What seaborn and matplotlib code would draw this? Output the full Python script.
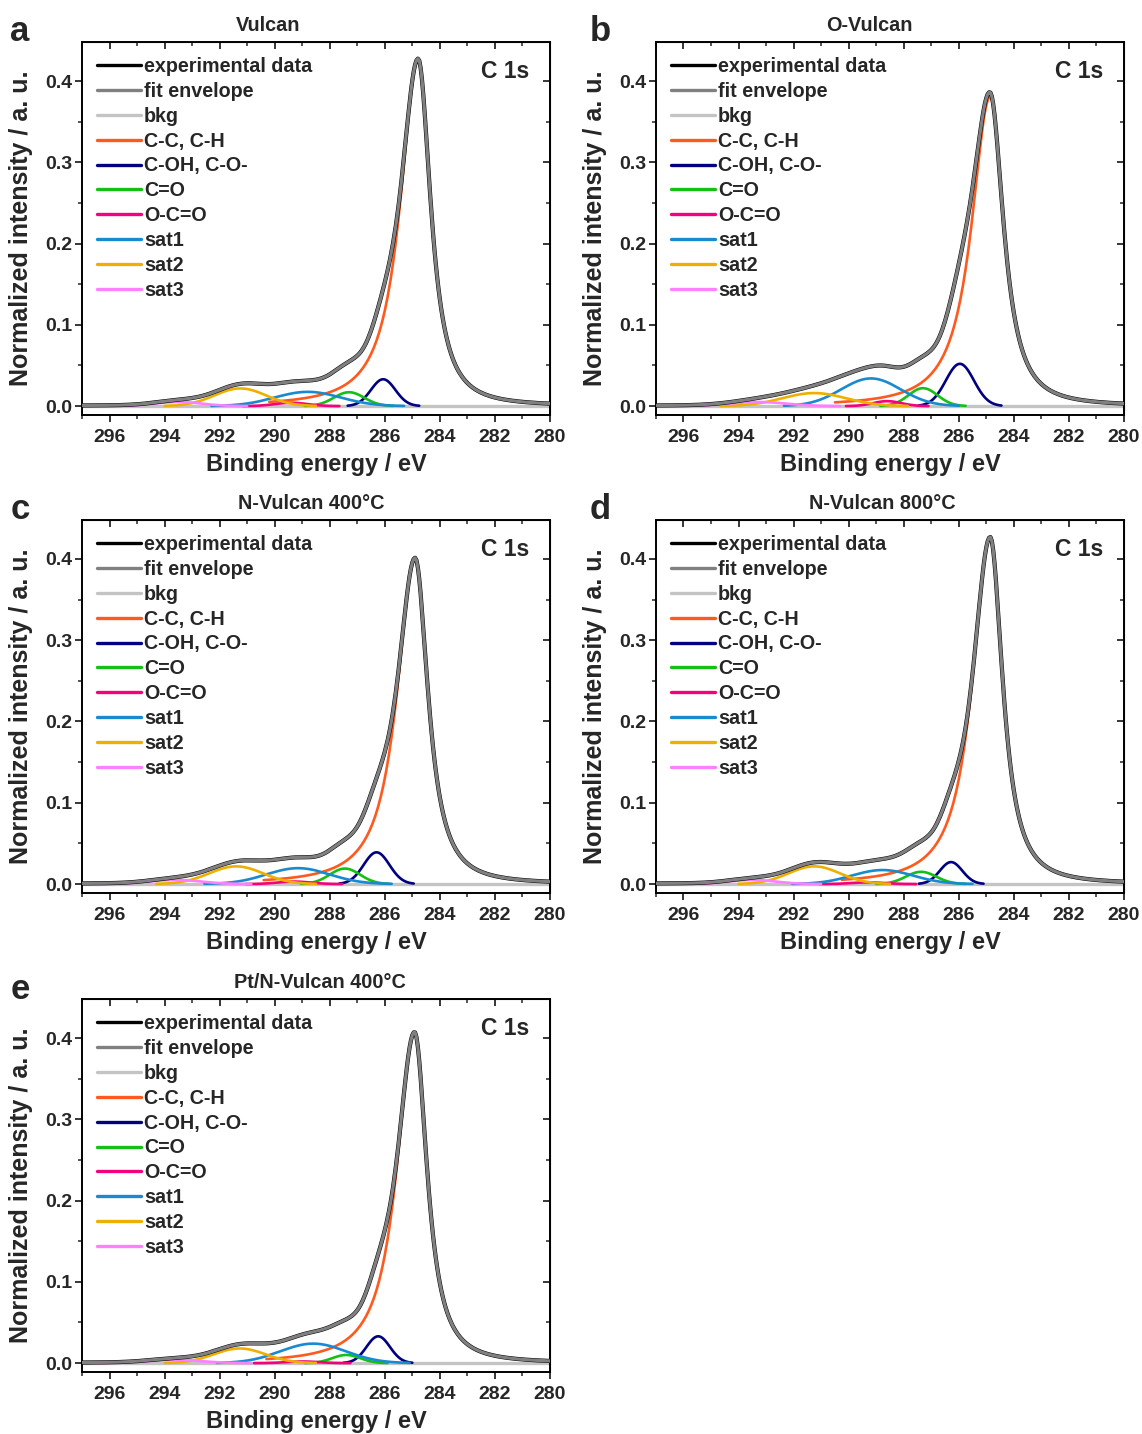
import matplotlib
matplotlib.use('Agg')
import matplotlib.pyplot as plt
import numpy as np
import pandas as pd
import seaborn as sns
from matplotlib.ticker import MultipleLocator

sns.set_style('ticks')
plt.rcParams['font.family'] = ['Liberation Sans', 'DejaVu Sans']
plt.rcParams['font.weight'] = 'bold'
plt.rcParams['axes.labelweight'] = 'bold'
plt.rcParams['axes.titleweight'] = 'bold'

# measurement grid of the C 1s region, eV
energy = np.round(np.arange(280.0, 297.0001, 0.05), 2)

components = ['C-C, C-H', 'C-OH, C-O-', 'C=O', 'O-C=O', 'sat1', 'sat2', 'sat3']
comp_colors = ['#ff5a1e', '#000080', '#14c014', '#f5007a', '#188ad0', '#eeb000', '#ff80ff']
# Lorentzian power of the lineshape (None = Gaussian)
comp_power = [1.2, None, None, None, None, None, None]

samples = ['Vulcan', 'O-Vulcan', 'N-Vulcan 400°C', 'N-Vulcan 800°C', 'Pt/N-Vulcan 400°C']
letters = ['a', 'b', 'c', 'd', 'e']
title_x = [0.397, 0.457, 0.49, 0.483, 0.508]

# fitted peaks: centre / eV, height, HWHM high-BE side, HWHM low-BE side
vulcan_center = [284.79, 286.06, 287.30, 289.40, 288.80, 291.25, 293.50]
vulcan_height = [0.427, 0.033, 0.017, 0.004, 0.0175, 0.0217, 0.005]
vulcan_hw_high = [0.77, 0.52, 0.65, 0.70, 1.40, 1.10, 1.00]
vulcan_hw_low = [0.54, 0.52, 0.65, 0.70, 1.40, 1.10, 1.00]

ovulcan_center = [284.86, 285.96, 287.30, 288.60, 289.19, 291.25, 293.30]
ovulcan_height = [0.381, 0.052, 0.022, 0.006, 0.034, 0.016, 0.005]
ovulcan_hw_high = [0.80, 0.60, 0.62, 0.60, 1.27, 1.35, 1.20]
ovulcan_hw_low = [0.58, 0.60, 0.62, 0.60, 1.27, 1.35, 1.20]

n400_center = [284.90, 286.30, 287.45, 289.30, 289.15, 291.40, 293.60]
n400_height = [0.401, 0.039, 0.019, 0.003, 0.0195, 0.0217, 0.005]
n400_hw_high = [0.78, 0.55, 0.65, 0.70, 1.35, 1.15, 1.10]
n400_hw_low = [0.56, 0.55, 0.65, 0.70, 1.35, 1.15, 1.10]

n800_center = [284.86, 286.28, 287.37, 289.30, 288.77, 291.25, 293.50]
n800_height = [0.427, 0.027, 0.015, 0.002, 0.0172, 0.0217, 0.005]
n800_hw_high = [0.77, 0.48, 0.65, 0.70, 1.30, 1.10, 1.00]
n800_hw_low = [0.54, 0.48, 0.65, 0.70, 1.30, 1.10, 1.00]

ptn400_center = [284.92, 286.24, 287.40, 289.00, 288.60, 291.27, 293.60]
ptn400_height = [0.407, 0.033, 0.010, 0.002, 0.024, 0.018, 0.004]
ptn400_hw_high = [0.77, 0.50, 0.60, 0.70, 1.40, 1.10, 1.10]
ptn400_hw_low = [0.54, 0.50, 0.60, 0.70, 1.40, 1.10, 1.10]

bkg_level = [0.0, 0.0, 0.0, 0.0, 0.0]

fits = [
    (vulcan_center, vulcan_height, vulcan_hw_high, vulcan_hw_low),
    (ovulcan_center, ovulcan_height, ovulcan_hw_high, ovulcan_hw_low),
    (n400_center, n400_height, n400_hw_high, n400_hw_low),
    (n800_center, n800_height, n800_hw_high, n800_hw_low),
    (ptn400_center, ptn400_height, ptn400_hw_high, ptn400_hw_low),
]


def lineshape(x, center, height, hw_high, hw_low, power):
    hw = np.where(x >= center, hw_high, hw_low)
    r2 = ((x - center) / hw) ** 2
    if power is None:
        return height * np.exp(-np.log(2) * r2)
    return height * (1 + (2 ** (1 / power) - 1) * r2) ** -power


# axes boxes in figure fractions (left, bottom, width, height)
boxes = [
    [0.0718, 0.7106, 0.4098, 0.2601],
    [0.5744, 0.7106, 0.4098, 0.2601],
    [0.0718, 0.3773, 0.4098, 0.2601],
    [0.5744, 0.3773, 0.4098, 0.2601],
    [0.0718, 0.0432, 0.4098, 0.2601],
]
letter_xy = [(20, 41), (600, 41), (20, 519), (600, 519), (20, 999)]

fig = plt.figure(figsize=(11.42, 14.34), dpi=100)

for i, sample in enumerate(samples):
    ax = fig.add_axes(boxes[i])
    center, height, hw_high, hw_low = fits[i]
    bkg = np.full_like(energy, bkg_level[i])

    curves = {}
    for j, comp in enumerate(components):
        curves[comp] = lineshape(energy, center[j], height[j], hw_high[j], hw_low[j],
                                 comp_power[j])
    envelope = bkg + sum(curves.values())

    df = pd.DataFrame({'energy': energy, 'experimental data': envelope,
                       'fit envelope': envelope, 'bkg': bkg})
    for j, comp in enumerate(components):
        y = curves[comp] + bkg
        # only draw where the component carries signal
        df[comp] = np.where(curves[comp] > 0.012 * height[j], y, np.nan)

    sns.lineplot(data=df, x='energy', y='experimental data', ax=ax, color='black',
                 lw=3.0, label='experimental data', zorder=4)
    sns.lineplot(data=df, x='energy', y='fit envelope', ax=ax, color='#808080',
                 lw=2.3, label='fit envelope', zorder=5)
    sns.lineplot(data=df, x='energy', y='bkg', ax=ax, color='#c4c4c4',
                 lw=2.4, label='bkg', zorder=1)
    for j, comp in enumerate(components):
        sns.lineplot(data=df.dropna(subset=[comp]), x='energy', y=comp, ax=ax,
                     color=comp_colors[j], lw=1.9, label=comp, zorder=3)

    ax.set_xlim(297, 280)
    ax.set_ylim(-0.011, 0.448)
    ax.xaxis.set_major_locator(MultipleLocator(2))
    ax.xaxis.set_minor_locator(MultipleLocator(1))
    ax.yaxis.set_major_locator(MultipleLocator(0.1))
    ax.yaxis.set_minor_locator(MultipleLocator(0.05))
    ax.yaxis.set_major_formatter(lambda v, pos: f'{v:.1f}')
    ax.tick_params(which='major', direction='out', length=5, width=1.3, labelsize=14)
    ax.tick_params(axis='x', which='major', pad=5)
    ax.tick_params(axis='y', which='major', pad=2)
    ax.tick_params(which='minor', direction='out', length=3, width=1.1)
    for side in ['top', 'right']:
        ax.spines[side].set_visible(True)
    for sp in ax.spines.values():
        sp.set_linewidth(1.4)
        sp.set_color('black')

    top = ax.secondary_xaxis('top')
    top.xaxis.set_major_locator(MultipleLocator(2))
    top.xaxis.set_minor_locator(MultipleLocator(1))
    top.tick_params(which='major', direction='in', length=5, width=1.3, labeltop=False)
    top.tick_params(which='minor', direction='in', length=3, width=1.1)
    right = ax.secondary_yaxis('right')
    right.yaxis.set_major_locator(MultipleLocator(0.1))
    right.yaxis.set_minor_locator(MultipleLocator(0.05))
    right.tick_params(which='major', direction='in', length=5, width=1.3, labelright=False)
    right.tick_params(which='minor', direction='in', length=3, width=1.1)

    ax.set_xlabel('Binding energy / eV', fontsize=17, labelpad=5)
    ax.set_ylabel('Normalized intensity / a. u.', fontsize=18)
    ax.yaxis.set_label_coords(-0.104, 0.5)
    ax.set_title(sample, fontsize=14.3, pad=8, x=title_x[i])

    leg = ax.legend(loc='upper left', bbox_to_anchor=(0.0, 1.0), frameon=False,
                    fontsize=14.2, handlelength=2.25, handletextpad=0.15,
                    labelspacing=0.30, borderaxespad=0.45, borderpad=0.3)
    for line in leg.get_lines():
        line.set_linewidth(2.4)

    ax.text(0.955, 0.92, 'C 1s', transform=ax.transAxes, ha='right', va='center',
            fontsize=16.5)

    lx, ly = letter_xy[i]
    fig.text(lx / 1142, 1 - ly / 1434, letters[i], ha='center', va='baseline',
             fontsize=25)

fig.savefig('out.png', dpi=100)
